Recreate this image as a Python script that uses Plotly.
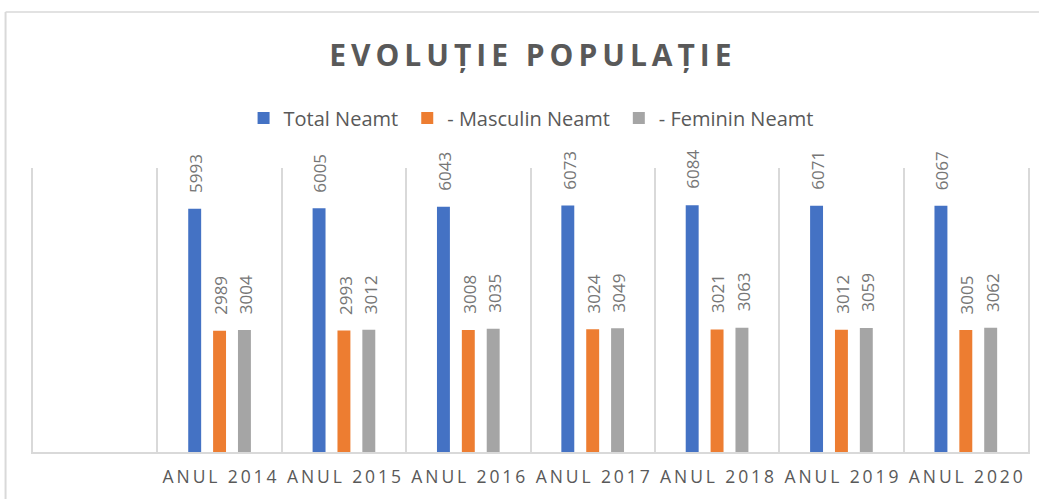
import plotly.graph_objects as go

categories = ["ANUL 2014", "ANUL 2015", "ANUL 2016", "ANUL 2017", "ANUL 2018", "ANUL 2019", "ANUL 2020"]
total = [5993, 6005, 6043, 6073, 6084, 6071, 6067]
masculin = [2989, 2993, 3008, 3024, 3021, 3012, 3005]
feminin = [3004, 3012, 3035, 3049, 3063, 3059, 3062]
series_names = ["Total Neamt", "- Masculin Neamt", "- Feminin Neamt"]
colors = ["#4472C4", "#ED7D31", "#A5A5A5"]
title_text = "EVOLUȚIE POPULAȚIE"

TS = "\u2009"  # thin space to mimic letter spacing


def spaced(s, sep):
    words = s.split(" ")
    return (sep + " " + sep).join(sep.join(list(w)) for w in words)


tick_text = [spaced(c, TS) for c in categories]

W, H = 1041, 499
L, R, T, B = 33, 11, 168, 47
pw, ph = W - L - R, H - T - B


def px(x):
    return (x - L) / pw


def py(y):
    return (H - B - y) / ph


fig = go.Figure()
shifts = [-25, 0, 25]
legend_ids = ["legend", "legend2", "legend3"]
legend_x = [244, 408, 620]
for name, vals, col, sh, lid in zip(series_names, [total, masculin, feminin], colors, shifts, legend_ids):
    fig.add_trace(go.Bar(
        x=categories, y=vals, name=name, marker_color=col,
        marker_line_width=0, legend=lid,
    ))
    for c, v in zip(categories, vals):
        fig.add_annotation(
            x=c, y=v, xref="x", yref="y", text=str(v), showarrow=False,
            textangle=-90, xanchor="center", yanchor="bottom",
            xshift=sh + 1, yshift=14,
            font=dict(family="Open Sans", size=17, color="#767676"),
        )

legend_style = dict(orientation="h", xanchor="left", y=py(118), yanchor="middle",
                    font=dict(family="Open Sans", size=20, color="#595959"),
                    bgcolor="rgba(0,0,0,0)", itemclick=False)

fig.update_layout(
    width=W, height=H,
    margin=dict(l=L, r=R, t=T, b=B),
    paper_bgcolor="white", plot_bgcolor="white",
    barmode="group", bargap=0.40, bargroupgap=0.48,
    title=dict(text=spaced(title_text, TS),
               x=px(541), xanchor="center", y=1 - 55 / H, yanchor="middle",
               font=dict(family="Open Sans", size=30, color="#595959", weight="bold")),
    legend=dict(x=px(legend_x[0]), **legend_style),
    legend2=dict(x=px(legend_x[1]), **legend_style),
    legend3=dict(x=px(legend_x[2]), **legend_style),
    xaxis=dict(type="category", range=[-1.5, 6.5], tickmode="array",
               tickvals=categories, ticktext=tick_text, tickson="boundaries",
               showgrid=True, gridcolor="#d9d9d9", gridwidth=1.5,
               showline=True, linecolor="#d9d9d9", linewidth=1.5,
               ticks="", ticklabelstandoff=8,
               tickfont=dict(family="Open Sans", size=17.5, color="#595959"),
               fixedrange=True),
    yaxis=dict(range=[0, 7000], showgrid=False, showticklabels=False, zeroline=False,
               showline=True, mirror=True, linecolor="#d9d9d9", linewidth=1.5,
               ticks="", fixedrange=True),
    showlegend=True,
)

# outer chart border (left and top edges visible)
fig.add_shape(type="line", xref="paper", yref="paper",
              x0=px(5.5), x1=px(5.5), y0=py(12), y1=py(499),
              line=dict(color="#d9d9d9", width=2), layer="below")
fig.add_shape(type="line", xref="paper", yref="paper",
              x0=px(5.5), x1=px(1041), y0=py(12), y1=py(12),
              line=dict(color="#d9d9d9", width=1.5), layer="below")

fig.write_html("out.html", config={"displayModeBar": False},
               post_script="document.body.style.margin='0px';")
